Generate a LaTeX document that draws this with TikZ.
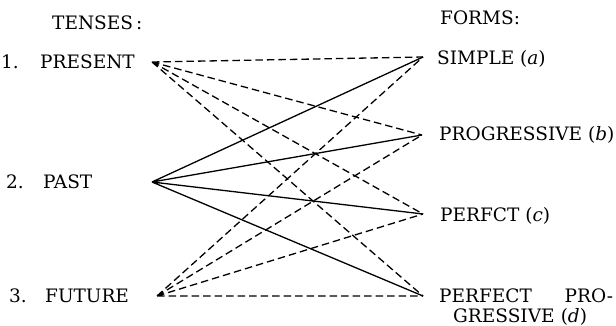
\documentclass[tikz,border=0pt]{standalone}
\usepackage{tikz}
\usepackage{amsmath}
\usepackage{fontspec}
\setmainfont{DejaVu Serif}

\begin{document}
\begin{tikzpicture}[x=1pt, y=-1pt,
    lbl/.style={font=\fontsize{18.5}{20}\selectfont, inner sep=0pt, anchor=base west},
    dashln/.style={line width=1.3pt, dash pattern=on 7.5pt off 4pt},
    fullln/.style={line width=1.3pt}]
    \useasboundingbox (0,0) rectangle (616,326);
    % points where the lines meet
    \coordinate (T1) at (152,62);
    \coordinate (T2) at (152,182);
    \coordinate (T3) at (157,296);
    \coordinate (Fa) at (423,57);
    \coordinate (Fb) at (422,135);
    \coordinate (Fc) at (423,214);
    \coordinate (Fd) at (423,296);
    % headings
    \node[lbl] (tenses) at (52,29.5) {TENSES\,:};
    \node[lbl] (forms) at (440,24.5) {FORMS:};
    % tenses
    \node[lbl] (present) at (1,68.5) {\makebox[39pt][l]{1.}PRESENT};
    \node[lbl] (past) at (6,188.5) {\makebox[37pt][l]{2.}PAST};
    \node[lbl] (future) at (9,302.5) {\makebox[36pt][l]{3.}FUTURE};
    % forms
    \node[lbl] (simple) at (437,64.5) {SIMPLE (\textit{a})};
    \node[lbl] (progr) at (439,140.5) {PROGRESSIVE (\textit{b})};
    \node[lbl] (perfct) at (440,221.5) {PERFCT (\textit{c})};
    \node[lbl, text width=174pt, align=left] (perfprog) at (439,302)
        {PERFECT\hskip 0pt plus 1filll PRO-\\\hspace*{14pt}GRESSIVE (\textit{d})};
    % present and future
    \draw[dashln] (T1) -- (Fa) (T1) -- (Fb) (T1) -- (Fc) (T1) -- (Fd);
    \draw[dashln] (T3) -- (Fa) (T3) -- (Fb) (T3) -- (Fc) (T3) -- (Fd);
    % past
    \draw[fullln] (T2) -- (Fa) (T2) -- (Fb) (T2) -- (Fc) (T2) -- (Fd);
\end{tikzpicture}
\end{document}
